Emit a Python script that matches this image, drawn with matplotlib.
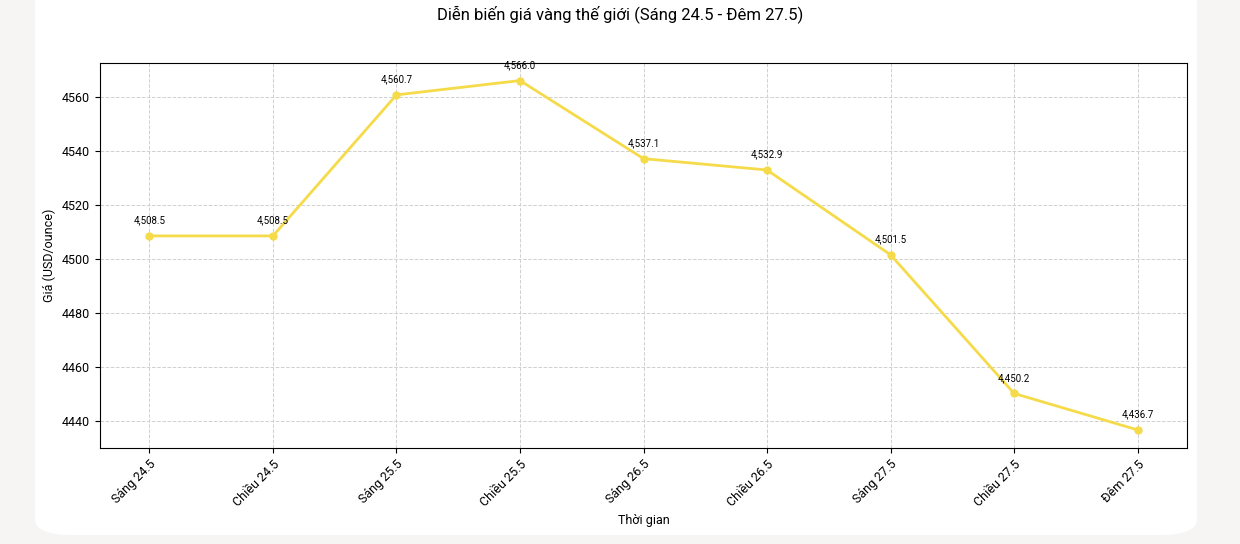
import matplotlib
matplotlib.use("Agg")
import matplotlib.pyplot as plt
from matplotlib.patches import FancyBboxPatch

plt.rcParams['font.family'] = ['Roboto', 'DejaVu Sans']

labels = ["Sáng 24.5", "Chiều 24.5", "Sáng 25.5", "Chiều 25.5", "Sáng 26.5",
          "Chiều 26.5", "Sáng 27.5", "Chiều 27.5", "Đêm 27.5"]
prices = [4508.5, 4508.5, 4560.7, 4566.0, 4537.1, 4532.9, 4501.5, 4450.2, 4436.7]

fig = plt.figure(figsize=(12.4, 5.44), dpi=100)
fig.patch.set_facecolor("#f7f4f4")
card = FancyBboxPatch((35/1240, 9/544), 1162/1240, 560/544,
                      boxstyle="round,pad=0,rounding_size=0.03",
                      transform=fig.transFigure, facecolor="white",
                      edgecolor="none", zorder=-10)
fig.patches.append(card)

ax = fig.add_axes([100/1240, 1-448/544, 1087/1240, 385/544])
ax.set_zorder(1)
ax.set_facecolor("white")
x = list(range(len(labels)))
ax.plot(x, prices, color="#f5db4a", linewidth=2, marker="o", markersize=5)
for xi, p in zip(x, prices):
    ax.annotate(f"{p:,.1f}", (xi, p), textcoords="offset points", xytext=(0, 9),
                ha="center", fontsize=7)
ax.set_xticks(x)
ax.set_xticklabels(labels, rotation=45, ha="right", rotation_mode="anchor", fontsize=9)
ax.set_xlim(-0.4, len(labels) - 0.6)
ax.set_ylim(4430, 4572.5)
ax.set_yticks([4440, 4460, 4480, 4500, 4520, 4540, 4560])
ax.tick_params(axis='y', labelsize=9)
ax.grid(True, linestyle="--", color="#d0d0d0", linewidth=0.7)
ax.set_axisbelow(True)
ax.set_xlabel("Thời gian", fontsize=9)
ax.set_ylabel("Giá (USD/ounce)", fontsize=9)
fig.text(0.5, 1-14/544, "Diễn biến giá vàng thế giới (Sáng 24.5 - Đêm 27.5)",
         ha="center", va="center", fontsize=12)
fig.savefig("out.png", dpi=100, facecolor=fig.get_facecolor())
